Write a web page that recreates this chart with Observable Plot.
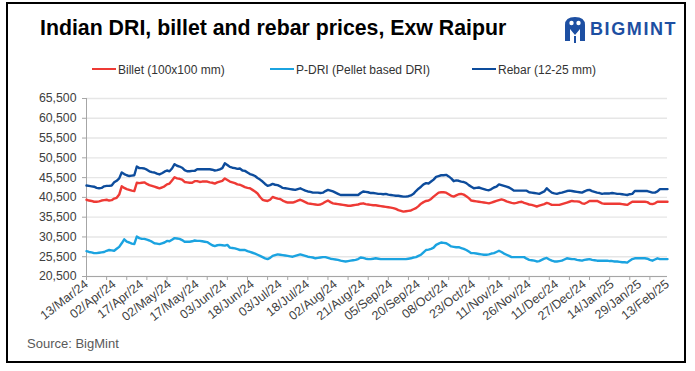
<!DOCTYPE html>
<html><head><meta charset="utf-8">
<script src="https://cdn.jsdelivr.net/npm/d3@7"></script>
<script src="https://cdn.jsdelivr.net/npm/@observablehq/plot@0.6"></script>
<style>
html,body{margin:0;padding:0;background:#fff;}
#wrap{position:relative;width:695px;height:371px;overflow:hidden;font-family:"Liberation Sans",Arial,sans-serif;}
#frame{position:absolute;left:6px;top:2px;width:680px;height:361px;border:2px solid #000;box-sizing:border-box;}
#chart{position:absolute;left:0;top:0;}
#title{position:absolute;left:40px;top:18px;font-size:21.3px;line-height:21px;font-weight:bold;color:#000;white-space:nowrap;}
.leg{position:absolute;top:64px;font-size:12px;line-height:12px;color:#333;white-space:nowrap;}
.leg i{display:inline-block;width:24px;height:2.5px;vertical-align:4px;margin-right:2px;}
#source{position:absolute;left:27px;top:337px;font-size:13px;line-height:13px;color:#595959;}
#logo{position:absolute;left:563px;top:15px;}
#logotext{position:absolute;left:590px;top:20px;font-size:18px;line-height:18px;font-weight:bold;color:#1d4fa2;letter-spacing:1.6px;}
</style></head>
<body>
<div id="wrap">
  <div id="chart"></div>
  <div id="frame"></div>
  <div id="title"></div>
  <div id="legend"></div>
  <svg id="logo" width="24" height="30" viewBox="0 0 24 30">
    <path d="M2,26 L2,10 Q2,2 12,2 Q22,2 22,10 L22,26 L17,26 L17,14 L12,20 L7,14 L7,26 Z" fill="#1d4fa2"/>
    <circle cx="8.5" cy="8" r="2.2" fill="#fff"/>
    <circle cx="15.5" cy="8" r="2.2" fill="#fff"/>
    <rect x="11" y="21" width="2" height="7" fill="#1d4fa2"/>
  </svg>
  <div id="logotext">BIGMINT</div>
  <div id="source"></div>
</div>
<script>
const titleText = "Indian DRI, billet and rebar prices, Exw Raipur";
const sourceText = "Source: BigMint";
const seriesNames = ["Billet (100x100 mm)", "P-DRI (Pellet based DRI)", "Rebar (12-25 mm)"];
const seriesColors = ["#ee3a35", "#1ba3e0", "#0d4c9c"];

const xLabels = ["13/Mar/24","02/Apr/24","17/Apr/24","02/May/24","17/May/24","03/Jun/24","18/Jun/24","03/Jul/24","18/Jul/24","02/Aug/24","21/Aug/24","05/Sep/24","20/Sep/24","08/Oct/24","23/Oct/24","11/Nov/24","26/Nov/24","11/Dec/24","27/Dec/24","14/Jan/25","29/Jan/25","13/Feb/25"];
const yTicks = [20500,25500,30500,35500,40500,45500,50500,55500,60500,65500];

const billet = [
39900,39700,39600,39400,39400,39500,39700,39800,39900,39700,
39800,40200,40400,41200,43300,42900,42600,42400,42200,42100,
44200,44100,44200,44300,43900,43600,43400,43200,43000,42800,
43000,43300,43800,44000,44800,45600,45300,45200,45000,44400,
44300,44200,44200,44600,44600,44400,44500,44500,44500,44300,
44200,44000,44300,44500,44700,45300,44900,44500,44300,44100,
43800,43700,43400,43100,42900,42800,42400,42000,41500,40600,
39900,39700,39600,39900,40600,40400,40200,40100,39700,39400,
39200,39200,39200,39400,39700,39900,39600,39300,39000,38900,
38800,38700,38600,38700,39000,39400,39700,39300,39000,38900,
38800,38700,38600,38500,38400,38400,38500,38600,38700,38900,
39000,38800,38700,38600,38500,38500,38400,38300,38200,38100,
38000,37900,37800,37600,37300,37100,36900,37000,37100,37200,
37500,37800,38300,38900,39300,39600,39700,40100,40700,41200,
41700,41800,41800,41700,41300,40900,40700,41000,41300,41400,
41200,40800,40300,39700,39600,39500,39400,39300,39200,39100,
39000,39200,39400,39600,39800,40000,39800,39500,39300,39100,
39000,39100,39300,39400,39100,38900,38700,38600,38400,38200,
38400,38600,38800,39100,38900,38600,38600,38600,38600,38800,
39000,39200,39400,39600,39500,39500,39400,39000,38900,39200,
39600,39600,39600,39600,39300,39000,38900,38900,38900,38900,
38900,38900,38900,38800,38700,38600,39000,39400,39400,39400,
39400,39400,39400,39300,38900,38800,39000,39400,39400,39400,
39400,39400];

const pdri = [
26900,26700,26600,26400,26400,26500,26600,26700,27000,27200,
27100,27000,27500,28000,28900,29900,29300,29100,28800,28700,
30600,30200,30000,30000,29800,29600,29300,28900,28800,28700,
28900,29100,29500,29400,29800,30200,30100,30000,29700,29300,
29300,29300,29400,29600,29500,29500,29400,29300,29200,28800,
28400,28200,28400,28500,28400,28300,28500,27800,27700,27600,
27400,27200,27200,27200,26900,26700,26500,26300,26000,25700,
25400,25100,24900,25200,25700,25900,26100,26000,25900,25800,
25700,25600,25500,25700,25900,26100,25900,25700,25500,25400,
25300,25100,25200,25300,25400,25400,25200,25000,24900,24800,
24700,24500,24400,24300,24400,24500,24600,24700,24900,25300,
25200,25000,24900,24900,25000,25100,25000,24900,24900,24900,
24900,24900,24900,24900,24900,24900,24900,24900,25000,25100,
25300,25400,25700,26000,26600,27200,27300,27500,27800,28500,
28800,29100,29000,28900,28500,28100,28000,27900,27900,27700,
27500,27200,26800,26400,26400,26300,26200,26100,26000,26000,
26100,26300,26400,26700,27000,26700,26300,26000,25700,25400,
25400,25400,25400,25400,25400,25000,24700,24600,24500,24300,
24400,24700,25000,25200,24800,24500,24300,24300,24400,24500,
24800,25100,25000,24900,24900,24700,24600,24500,24700,24800,
24900,24700,24600,24500,24500,24500,24500,24500,24400,24400,
24300,24300,24200,24100,24100,24000,24500,24900,25100,25100,
25100,25100,25100,25000,24700,24500,24800,25100,24900,24900,
24900,24900];

const rebar = [
43500,43400,43300,43200,42900,42800,42900,43300,43400,43400,
43500,44300,44700,45300,46800,46400,46100,45900,46000,46100,
48300,47900,47900,47800,47500,47100,46900,46800,46500,46300,
46600,47000,47300,47100,47800,48900,48500,48300,48000,47400,
47100,47100,47200,47200,47600,47600,47600,47600,47600,47600,
47500,47300,47400,47600,47900,49100,48700,48200,48000,47900,
47700,47800,47300,47200,46800,46400,46200,45900,45400,45000,
44500,43900,43400,43600,43900,43700,43600,43300,42900,42800,
42700,42600,42500,42400,42600,42800,42500,42200,42000,41900,
41700,41700,41700,41600,41700,42100,42400,42200,42000,41700,
41400,41100,41100,41100,41100,41100,41100,41100,41100,41600,
42000,41900,41800,41600,41600,41500,41400,41400,41300,41400,
41200,41100,41000,40900,40900,40800,40700,40700,40800,41000,
41400,42100,42700,43200,43800,44100,44000,44500,45000,45700,
45900,46100,46100,46200,45800,45300,44600,44800,44700,44500,
44400,44100,43600,43200,42800,42900,43000,42800,42600,42400,
42300,42600,43000,43200,43800,43600,43400,43200,43000,42600,
42200,42200,42200,42200,42200,42200,41800,41700,41600,41500,
41400,41700,42000,42800,42200,41700,41500,41400,41600,41700,
41900,42100,42200,42100,42000,41900,41800,41700,42000,42300,
42400,42100,41900,41700,41600,41400,41500,41500,41500,41600,
41500,41400,41400,41300,41200,41100,41300,41400,42100,42100,
42100,42100,42100,42100,41900,41700,41700,42000,42600,42600,
42600,42600];

// axis layout: labels every 11 points, tick marks every 8 points
const labelStep = 11, tickStep = 8;
const N = rebar.length;
const labelIdx = xLabels.map((_, k) => k * labelStep);
const tickIdx = d3.range(0, N - 1, tickStep);

const font = '"Liberation Sans", Arial, sans-serif';
const axisGray = "#a6a6a6";

const chart = Plot.plot({
  width: 695, height: 371,
  marginLeft: 86, marginRight: 28, marginTop: 98, marginBottom: 95,
  x: {domain: [0, N - 1]},
  y: {domain: [20500, 65500]},
  style: {fontFamily: font, fontSize: "12px", color: "#404040", background: "transparent", overflow: "visible"},
  marks: [
    Plot.gridY(yTicks, {stroke: "#e6e6e6", strokeOpacity: 1, strokeWidth: 1.4}),
    Plot.ruleX([0], {stroke: axisGray}),
    Plot.ruleY([20500], {stroke: axisGray}),
    Plot.axisY(yTicks, {tickFormat: d3.format(","), tickSize: 4, tickPadding: 6, stroke: axisGray, label: null, fontSize: 12.3}),
    Plot.axisX(tickIdx, {tickSize: 4, tickFormat: () => "", stroke: axisGray, label: null}),
    Plot.axisX(labelIdx, {tickSize: 0, tickPadding: 6, tickRotate: -38, tickFormat: d => xLabels[labelIdx.indexOf(d)], label: null, fontSize: 12.5, style: {letterSpacing: "1.1px"}}),
    Plot.lineY(billet, {stroke: seriesColors[0], strokeWidth: 2.4}),
    Plot.lineY(pdri, {stroke: seriesColors[1], strokeWidth: 2.4}),
    Plot.lineY(rebar, {stroke: seriesColors[2], strokeWidth: 2.4})
  ]
});
document.getElementById("chart").appendChild(chart);
document.getElementById("title").textContent = titleText;
document.getElementById("source").textContent = sourceText;

const legendX = [92, 270, 472];
const legend = document.getElementById("legend");
seriesNames.forEach((name, k) => {
  const d = document.createElement("div");
  d.className = "leg";
  d.style.left = legendX[k] + "px";
  const sw = document.createElement("i");
  sw.style.background = seriesColors[k];
  d.appendChild(sw);
  d.appendChild(document.createTextNode(name));
  legend.appendChild(d);
});
</script>
</body></html>
